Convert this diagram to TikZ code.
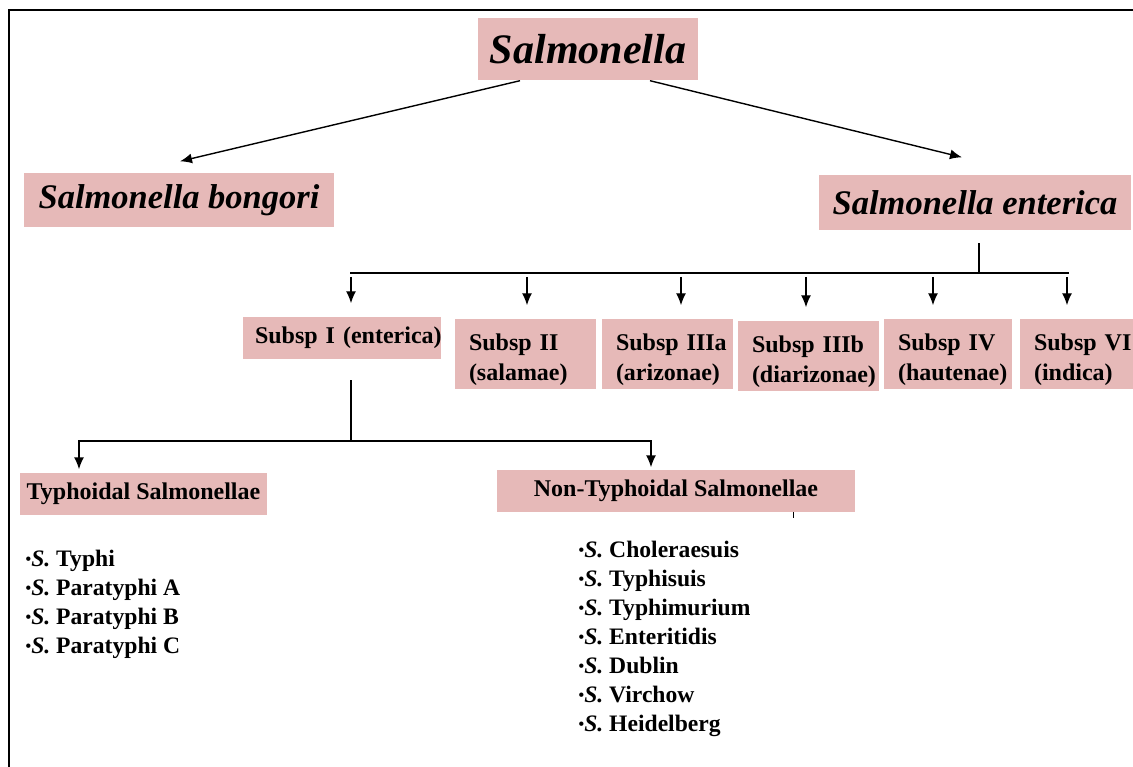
\documentclass[tikz,border=0pt]{standalone}
\usepackage{fontspec}
\setmainfont{Liberation Serif}
\usetikzlibrary{arrows.meta}
\definecolor{boxpink}{HTML}{E6B9B8}
\newcommand{\sal}[1]{\raisebox{1.5pt}{\fontsize{16}{16}\selectfont\textbullet}\textit{S.} #1}
\newcommand{\twoline}[2]{\rule{0pt}{28pt}\mbox{#1}\\\mbox{#2}}

\begin{document}
\begin{tikzpicture}[x=1pt, y=-1pt, >={Latex[length=12pt,width=10pt]}, line width=1.4pt,
	box/.style={fill=boxpink, inner sep=0pt, font=\fontsize{24}{30}\selectfont\bfseries},
	subbox/.style={box, align=left, inner xsep=14pt},
	listtext/.style={align=left, anchor=north west, inner sep=0pt, font=\fontsize{23.6}{29}\selectfont\bfseries}]
	\useasboundingbox (0,0) rectangle (1133,767);
	\draw[line width=2pt] (9,767) -- (9,10) -- (1133,10);

	% genus and species
	\node[box, minimum width=220pt, minimum height=62pt, font=\fontsize{42}{48}\selectfont\bfseries\itshape] (sal) at (588,49) {Salmonella};
	\node[box, minimum width=310pt, minimum height=54pt, font=\fontsize{34.5}{40}\selectfont\bfseries\itshape] (bong) at (179,200) {Salmonella bongori};
	\node[box, minimum width=312pt, minimum height=55pt, font=\fontsize{34.5}{40}\selectfont\bfseries\itshape] (ent) at (975,202.5) {Salmonella enterica};
	\draw[->] ([xshift=-68pt]sal.south) -- ([xshift=1pt,yshift=11pt]bong.north);
	\draw[->] ([xshift=62pt]sal.south) -- ([xshift=-13pt,yshift=17pt]ent.north);

	% subspecies
	\node[subbox, inner xsep=12pt, text width=174pt, minimum height=42pt] (s1) at (342,338) {\mbox{Subsp I (enterica)}};
	\node[subbox, text width=113pt, minimum height=70pt] (s2) at (525.5,354) {\twoline{Subsp II}{(salamae)}};
	\node[subbox, text width=103pt, minimum height=70pt] (s3) at (667.5,354) {\twoline{Subsp IIIa}{(arizonae)}};
	\node[subbox, text width=113pt, minimum height=70pt] (s4) at (808.5,356) {\twoline{Subsp IIIb}{(diarizonae)}};
	\node[subbox, text width=100pt, minimum height=70pt] (s5) at (948,354) {\twoline{Subsp IV}{(hautenae)}};
	\node[subbox, text width=85pt, minimum height=70pt] (s6) at (1076.5,354) {\twoline{Subsp VI}{(indica)}};

	\coordinate (bt) at (979,273);
	\draw (bt) -- ++(0,-30);
	\foreach \i/\x in {1/351, 2/527, 3/681, 4/806, 5/933, 6/1067}
		\coordinate (b\i) at (\x,273);
	\draw (350,273) -- (1069,273);
	\foreach \i in {1,...,6}
		\draw[->, shorten >=13pt] ([yshift=-4pt]b\i) -- (b\i |- s\i.north);

	% typhoidal / non-typhoidal
	\node[box, minimum width=247pt, minimum height=42pt] (ty) at (143.5,494) {Typhoidal Salmonellae};
	\node[box, minimum width=358pt, minimum height=42pt] (nt) at (676,491) {Non-Typhoidal Salmonellae};
	\coordinate (t0) at (351,441);
	\coordinate (t1) at (79,441);
	\coordinate (t2) at (651,441);
	\draw (t0) -- ++(0,-61);
	\draw[->, shorten >=3pt] (t0) -- (t1) -- (t1 |- ty.north);
	\draw[->, shorten >=2pt] (t0) -- (t2) -- (t2 |- nt.north);
	\coordinate (tick) at (793,512);
	\draw[line width=1pt] (tick) -- ++(0,6);

	\node[listtext] (tylist) at (25,549) {\sal{Typhi}\\\sal{Paratyphi A}\\\sal{Paratyphi B}\\\sal{Paratyphi C}};
	\node[listtext] (ntlist) at (578,540) {\sal{Choleraesuis}\\\sal{Typhisuis}\\\sal{Typhimurium}\\\sal{Enteritidis}\\\sal{Dublin}\\\sal{Virchow}\\\sal{Heidelberg}};
\end{tikzpicture}
\end{document}
